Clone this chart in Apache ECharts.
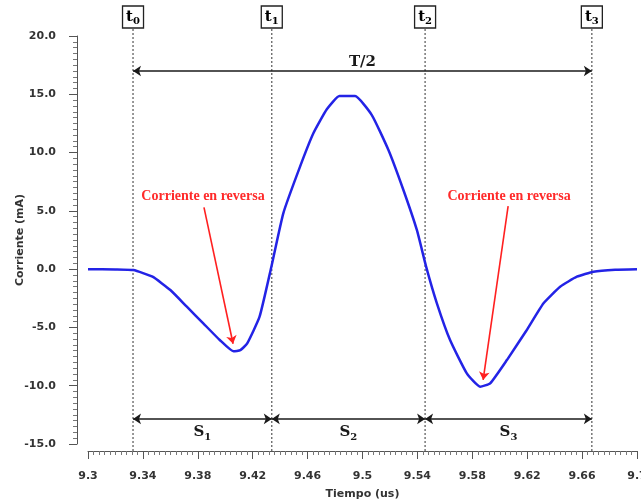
<!DOCTYPE html>
<html>
<head>
  <meta charset="UTF-8">
  <title>Corriente en reversa</title>
  <style>
    body { margin: 0; background: #fff; }
    #main { width: 641px; height: 502px; }
  </style>
</head>
<body>
  <div id="main"></div>
  <script src="https://cdn.jsdelivr.net/npm/echarts@6/dist/echarts.min.js"></script>
  <script>
    // current waveform
    const timeUs = [9.300, 9.320, 9.333, 9.347, 9.360, 9.372, 9.384, 9.396, 9.406, 9.411,
      9.416, 9.425, 9.4334, 9.4423, 9.4545, 9.4642, 9.4740, 9.4832, 9.4946, 9.5068,
      9.5189, 9.5298, 9.5396, 9.5464, 9.5542, 9.5638, 9.5760, 9.5857, 9.5930, 9.6052,
      9.6197, 9.6319, 9.6440, 9.6562, 9.6683, 9.6841, 9.700];
    const currentMa = [0.0, -0.02, -0.08, -0.65, -1.79, -3.22, -4.65, -6.08, -7.05, -6.95,
      -6.37, -4.08, 0.1, 4.79, 8.79, 11.65, 13.71, 14.85, 14.85, 13.22,
      10.22, 6.79, 3.36, 0.2, -2.93, -6.08, -8.94, -10.08, -9.8, -7.8,
      -5.22, -2.93, -1.51, -0.65, -0.22, -0.05, 0.0];

    // switching instants t0..t3 and the interval labels
    const instants = [9.3328, 9.4339, 9.5456, 9.6671];
    const instantSubs = ['0', '1', '2', '3'];
    const spanSubs = ['1', '2', '3'];
    const periodLabel = 'T/2';
    const noteText = 'Corriente en reversa';

    // annotation anchors in data units: [textX, textY, arrowFromX, arrowFromY, arrowToX, arrowToY]
    const notes = [
      [9.3838, 6.2, 9.3845, 5.3, 9.4057, -6.4],
      [9.6068, 6.2, 9.6061, 5.4, 9.5879, -9.5]
    ];
    const periodY = 17.0;
    const spanY = -12.85;
    const boxY = 21.63;
    const guideTop = 20.94;
    const guideBottom = -15.6;

    const chart = echarts.init(document.getElementById('main'));

    const serif = 'DejaVu Serif';
    const subRich = {
      b: { fontFamily: serif, fontWeight: 'bold', fontSize: 15, color: '#1a1a1a' },
      s: { fontFamily: serif, fontWeight: 'bold', fontSize: 10, color: '#1a1a1a', padding: [9, 0, 0, 0] }
    };

    const points = timeUs.map((t, i) => [t, currentMa[i]]);

    chart.setOption({
      animation: false,
      backgroundColor: '#fff',
      grid: { left: 88, right: 4, top: 36, bottom: 58, containLabel: false, outerBoundsMode: 'none' },
      xAxis: {
        type: 'value',
        min: 9.3,
        max: 9.7,
        interval: 0.04,
        offset: 7,
        name: 'Tiempo (us)',
        nameLocation: 'middle',
        nameGap: 38,
        nameTextStyle: { fontFamily: 'DejaVu Sans', fontWeight: 'bold', fontSize: 11, color: '#333' },
        axisLine: { onZero: false, lineStyle: { color: '#555', width: 1 } },
        axisTick: { length: 8, lineStyle: { color: '#555' } },
        minorTick: { show: true, splitNumber: 10, length: 4, lineStyle: { color: '#777' } },
        axisLabel: {
          margin: 20,
          fontFamily: 'DejaVu Sans', fontWeight: 'bold', fontSize: 11, color: '#333',
          formatter: v => String(parseFloat(v.toFixed(2)))
        },
        splitLine: { show: false }
      },
      yAxis: {
        type: 'value',
        min: -15,
        max: 20,
        interval: 5,
        offset: 11,
        name: 'Corriente (mA)',
        nameLocation: 'middle',
        nameGap: 51,
        nameMoveOverlap: false,
        nameTextStyle: { fontFamily: 'DejaVu Sans', fontWeight: 'bold', fontSize: 11, color: '#333' },
        axisLine: { show: true, onZero: false, lineStyle: { color: '#555', width: 1 } },
        axisTick: { show: true, length: 8, lineStyle: { color: '#555' } },
        minorTick: { show: true, splitNumber: 10, length: 4, lineStyle: { color: '#777' } },
        axisLabel: {
          margin: 21,
          fontFamily: 'DejaVu Sans', fontWeight: 'bold', fontSize: 11, color: '#333',
          formatter: v => v.toFixed(1)
        },
        splitLine: { show: false }
      },
      series: [
        {
          type: 'line',
          data: points,
          clip: false,
          showSymbol: false,
          smooth: 0.15,
          lineStyle: { color: '#2323e6', width: 2.5 },
          z: 5,
          markPoint: {
            silent: true,
            data: notes.map(n => ({
              coord: [n[0], n[1]],
              symbol: 'rect',
              symbolSize: 0,
              label: {
                show: true, position: 'inside',
                formatter: noteText,
                fontFamily: 'Liberation Serif', fontWeight: 'bold', fontSize: 14, color: '#ff2a2a'
              }
            }))
          }
        },
        {
          type: 'line',
          data: [],
          clip: false,
          markLine: {
            silent: true,
            symbol: ['arrow', 'arrow'],
            symbolSize: 8,
            lineStyle: { color: '#1a1a1a', type: 'solid', width: 1.6 },
            data: [[
              { coord: [instants[0], periodY],
                label: { show: true, position: 'insideMiddleTop', distance: 1, formatter: periodLabel,
                  fontFamily: serif, fontWeight: 'bold', fontSize: 15, color: '#1a1a1a' } },
              { coord: [instants[3], periodY] }
            ]].concat(spanSubs.map((s, i) => [
              { coord: [instants[i], spanY],
                label: { show: true, position: 'insideMiddleBottom', distance: 4,
                  formatter: '{b|S}{s|' + s + '}', rich: subRich } },
              { coord: [instants[i + 1], spanY] }
            ]))
          }
        },
        {
          type: 'line',
          data: [],
          clip: false,
          markLine: {
            silent: true,
            symbol: ['none', 'arrow'],
            symbolSize: 8,
            lineStyle: { color: '#ff2020', type: 'solid', width: 1.6 },
            label: { show: false },
            data: notes.map(n => [{ coord: [n[2], n[3]] }, { coord: [n[4], n[5]] }])
          }
        }
      ]
    });

    // dotted guides and t-boxes sit partly outside the grid, so place them through the axes
    const graphics = [];
    instants.forEach((t, i) => {
      const top = chart.convertToPixel({ gridIndex: 0 }, [t, guideTop]);
      const bottom = chart.convertToPixel({ gridIndex: 0 }, [t, guideBottom]);
      const box = chart.convertToPixel({ gridIndex: 0 }, [t, boxY]);
      graphics.push({
        type: 'line', silent: true, z: 1,
        shape: { x1: top[0], y1: top[1], x2: bottom[0], y2: bottom[1] },
        style: { stroke: '#555', lineWidth: 1.2, lineDash: [2, 2] }
      });
      graphics.push({
        type: 'rect', silent: true, z: 10,
        shape: { x: box[0] - 10.5, y: box[1] - 11, width: 21, height: 22 },
        style: { fill: '#fff', stroke: '#222', lineWidth: 1.3 }
      });
      graphics.push({
        type: 'text', silent: true, z: 11,
        x: box[0], y: box[1],
        style: {
          text: '{b|t}{s|' + instantSubs[i] + '}',
          rich: subRich,
          align: 'center', verticalAlign: 'middle'
        }
      });
    });
    chart.setOption({ graphic: graphics });
  </script>
</body>
</html>
